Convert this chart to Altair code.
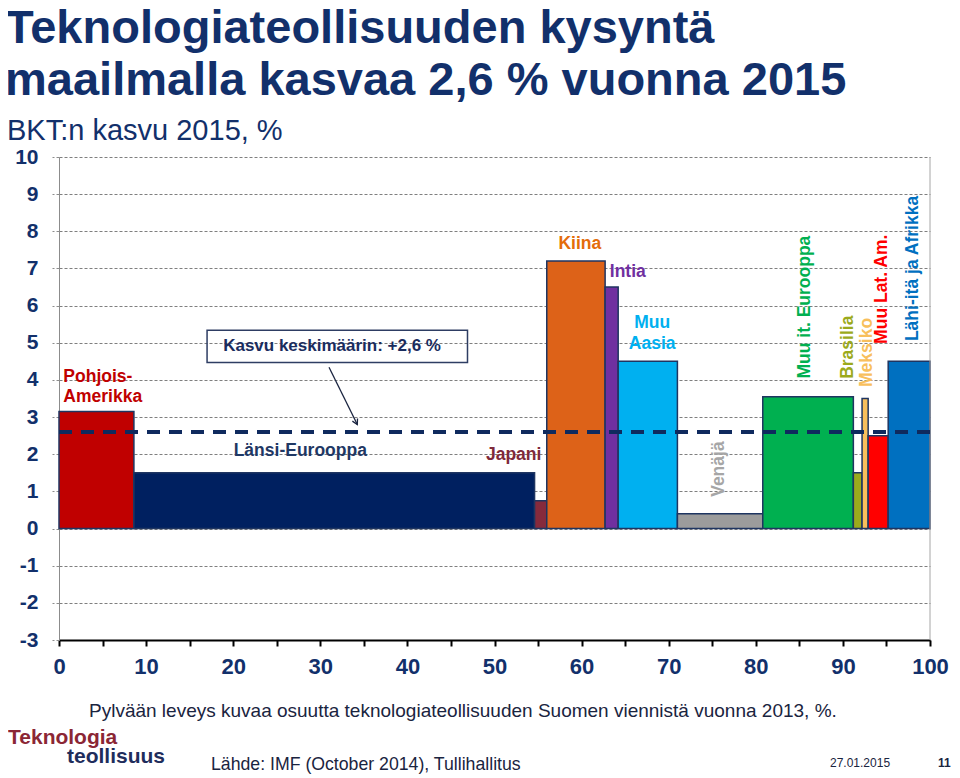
import altair as alt
import pandas as pd

# ---------------- data ----------------
regions = ["Pohjois-Amerikka", "Länsi-Eurooppa", "Japani", "Kiina", "Intia", "Muu Aasia",
           "Venäjä", "Muu it. Eurooppa", "Brasilia", "Meksiko", "Muu Lat. Am.", "Lähi-itä ja Afrikka"]
# share of Finnish technology-industry exports 2013, % (bar width)
export_share = [8.6, 46.0, 1.4, 6.7, 1.5, 6.8, 9.8, 10.4, 1.0, 0.7, 2.3, 4.8]
# GDP growth 2015, % (bar height)
gdp_growth = [3.15, 1.5, 0.75, 7.2, 6.5, 4.5, 0.4, 3.55, 1.5, 3.5, 2.5, 4.5]
bar_colors = ["#C00000", "#002060", "#862A3C", "#DD6218", "#7030A0", "#00B0F0",
              "#9C9C9C", "#00B050", "#9BAA1C", "#F8BF5C", "#FF0000", "#0070C0"]
avg_growth = 2.6

# region labels (text, anchor x, anchor y, colour, angle)
label_text = ["Pohjois-", "Amerikka", "Länsi-Eurooppa", "Japani", "Kiina", "Intia", "Muu", "Aasia",
              "Venäjä", "Muu it. Eurooppa", "Brasilia", "Meksiko", "Muu Lat. Am.", "Lähi-itä ja Afrikka"]
label_x = [0.5, 0.5, 27.7, 52.2, 59.8, 65.3, 68.1, 68.1, 75.8, 85.7, 90.6, 92.8, 94.5, 98.1]
label_y = [4.07, 3.53, 2.1, 1.97, 7.65, 6.9, 5.53, 4.96, 1.6, 5.96, 4.88, 4.74, 6.44, 7.0]
label_color = ["#C00000", "#C00000", "#1F3864", "#7F2A3A", "#E46C0A", "#7030A0", "#00B0F0", "#00B0F0",
               "#A6A6A6", "#00B050", "#9BAA1C", "#F8BF5C", "#FF0000", "#0070C0"]
label_angle = [0, 0, 0, 0, 0, 0, 0, 0, 270, 270, 270, 270, 270, 270]
label_align = ["left", "left"] + ["center"] * 12

# annotation box and arrow
box_text = "Kasvu keskimäärin: +2,6 %"
box_x = [17.0, 46.9]
box_y = [4.47, 5.34]
arrow_x = [31.0, 34.25]
arrow_y = [4.34, 2.8]

x_ticks = list(range(0, 101, 5))
y_ticks = list(range(-3, 11))

# ---------------- build ----------------
df = pd.DataFrame({"region": regions, "share": export_share, "growth": gdp_growth})
df["x1"] = df["share"].cumsum()
df["x0"] = df["x1"] - df["share"]
df["base"] = 0.0

lab = pd.DataFrame({"t": label_text, "lx": label_x, "ly": label_y, "c": label_color,
                    "a": label_angle, "al": label_align})

FONT = "Liberation Sans"
NAVY = "#12306B"
W, H = 871, 483

xs = alt.Scale(domain=[0, 100], nice=False, zero=False)
ys = alt.Scale(domain=[-3, 10], nice=False, zero=False)

x_axis = alt.Axis(values=x_ticks, labelExpr="datum.value % 10 == 0 ? datum.label : ''",
                  grid=False, title=None)
y_axis = alt.Axis(values=y_ticks, labelExpr="'' + datum.value", grid=True, title=None)


def X(field):
    return alt.X(field, scale=xs, axis=x_axis)


def Y(field):
    return alt.Y(field, scale=ys, axis=y_axis)


bars = alt.Chart(df).mark_rect(stroke="#1F3561", strokeWidth=1.5).encode(
    x=X("x0:Q"), x2="x1:Q", y=Y("growth:Q"), y2="base:Q",
    color=alt.Color("region:N", scale=alt.Scale(domain=regions, range=bar_colors), legend=None),
)

right_border = alt.Chart(pd.DataFrame({"x": [100]})).mark_rule(color="#A6A6A6", strokeWidth=1).encode(
    x=X("x:Q"))

avg_line = alt.Chart(pd.DataFrame({"avg": [avg_growth]})).mark_rule(
    color="#0F2A5E", strokeWidth=4, strokeDash=[13, 9]).encode(y=Y("avg:Q"))

lab_h_left = alt.Chart(lab).transform_filter("datum.al == 'left'").mark_text(
    font=FONT, fontSize=17.5, fontWeight="bold", align="left", baseline="middle").encode(
    x=X("lx:Q"), y=Y("ly:Q"), text="t:N", color=alt.Color("c:N", scale=None))
lab_c = alt.Chart(lab).transform_filter("datum.al == 'center'").mark_text(
    font=FONT, fontSize=17.5, fontWeight="bold", align="center", baseline="middle").encode(
    x=X("lx:Q"), y=Y("ly:Q"), text="t:N",
    color=alt.Color("c:N", scale=None), angle=alt.Angle("a:Q", scale=None))

box_df = pd.DataFrame({"x0": [box_x[0]], "x1": [box_x[1]], "y0": [box_y[0]], "y1": [box_y[1]],
                       "t": [box_text], "xm": [sum(box_x) / 2 - 0.6], "ym": [sum(box_y) / 2]})
box = alt.Chart(box_df).mark_rect(fillOpacity=0, stroke="#2E3D63", strokeWidth=1.5).encode(
    x=X("x0:Q"), x2="x1:Q", y=Y("y0:Q"), y2="y1:Q")
box_label = alt.Chart(box_df).mark_text(font=FONT, fontSize=17, fontWeight="bold", color="#1A2C5E",
                                        align="center", baseline="middle").encode(
    x=X("xm:Q"), y=Y("ym:Q"), text="t:N")

arr_df = pd.DataFrame({"x": arrow_x, "y": arrow_y, "o": [0, 1]})
arrow = alt.Chart(arr_df).mark_line(color="#1A2440", strokeWidth=1.3).encode(
    x=X("x:Q"), y=Y("y:Q"), order="o:Q")
arrow_head = alt.Chart(arr_df.iloc[[1]]).mark_point(
    shape="M -0.55 -1 L 0 0 L 0.55 -1", filled=False, angle=333, size=110, strokeWidth=1.3,
    color="#1A2440", opacity=1).encode(x=X("x:Q"), y=Y("y:Q"))


def free_text(txt, x, y, size, color, weight="normal"):
    return alt.Chart(pd.DataFrame({"t": [txt]})).mark_text(
        font=FONT, fontSize=size, fontWeight=weight, color=color, align="left",
        baseline="alphabetic").encode(text="t:N", x=alt.value(x), y=alt.value(y))


title1 = free_text("Teknologiateollisuuden kysyntä", -54, -114, 47, NAVY, "bold")
title2 = free_text("maailmalla kasvaa 2,6 % vuonna 2015", -54, -62, 47, NAVY, "bold")
subtitle = free_text("BKT:n kasvu 2015, %", -52, -17, 29, NAVY)
note = free_text("Pylvään leveys kuvaa osuutta teknologiateollisuuden Suomen viennistä vuonna 2013, %.",
                 30, 560, 19, "#1A2440")
logo1 = free_text("Teknologia", -51, 587, 21, "#8B2635", "bold")
logo2 = free_text("teollisuus", 8, 606, 21, "#1F2D5C", "bold")
source = free_text("Lähde: IMF (October 2014), Tullihallitus", 152, 613, 17.7, "#1A2440")
date = free_text("27.01.2015", 771, 610, 12, "#1A2440")
page = free_text("11", 879, 610, 12, "#1A2440", "bold")

chart = alt.layer(
    bars, right_border, lab_h_left, lab_c, box, box_label, arrow, arrow_head, avg_line,
    title1, title2, subtitle, note, logo1, logo2, source, date, page,
).properties(
    width=W, height=H,
    autosize=alt.AutoSizeParams(type="none"),
    padding={"left": 51, "top": 149, "right": 21, "bottom": 134},
).configure(background="white").configure_view(stroke=None).configure_axisX(
    domainColor="black", domainWidth=2, tickColor="black", tickWidth=2, tickSize=6,
    labelFont=FONT, labelFontSize=22, labelFontWeight="bold", labelColor=NAVY,
    labelPadding=10, labelFlush=False, labelOverlap=False,
).configure_axisY(
    domainColor="#8C8C8C", domainWidth=1, tickColor="#8C8C8C", tickSize=7, tickDash=[3, 2],
    gridColor="#7F7F7F", gridDash=[3, 2], gridWidth=1, labelFont=FONT, labelFontSize=21,
    labelFontWeight="bold", labelColor=NAVY, labelPadding=14, labelOverlap=False,
    labelFlush=False, labelBound=False,
)

chart.save("out.html", embed_options={"renderer": "svg", "actions": False})
